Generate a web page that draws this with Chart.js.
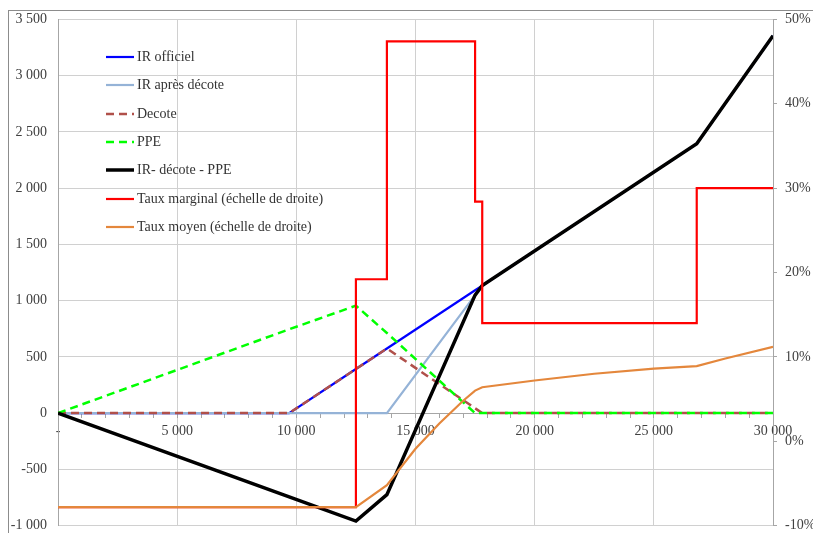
<!DOCTYPE html>
<html>
<head>
<meta charset="utf-8">
<script src="https://cdn.jsdelivr.net/npm/chart.js@4.4.1/dist/chart.umd.min.js"></script>
<style>
  body { margin: 0; overflow: hidden; background: #fff; font-family: "Liberation Serif", serif; }
  #wrap { position: relative; width: 813px; height: 533px; overflow: hidden; }
  #frame { position: absolute; left: 8px; top: 10px; width: 900px; height: 600px; border: 1px solid #8c8c8c; }
  #chart { position: absolute; left: 0; top: 0; }
  #legend { position: absolute; left: 106px; top: 43px; }
  .item { position: absolute; left: 0; height: 28px; display: flex; align-items: center; white-space: nowrap; font-size: 14px; color: #333; }
  .item svg { margin-right: 3px; }
</style>
</head>
<body>
<div id="wrap">
  <div id="frame"></div>
  <canvas id="chart" width="813" height="545"></canvas>
  <div id="legend"></div>
</div>
<script>
// Revenus (points de rupture) et montants en euros
const revenus = [0, 9700, 12500, 13800, 17500, 17800, 26800, 30000];
const irOfficiel = [0, 0, 392, 574, 1092, 1134, 2394, 3354];
const irApresDecote = [0, 0, 0, 0, 1049, 1134, 2394, 3354];
const decote = [0, 0, 392, 574, 43, 0, 0, 0];
const ppe = [0, 745, 955, 712, 0, 0, 0, 0];
const irNet = [0, -745, -960, -725, 1049, 1134, 2394, 3354];

// Taux (en %), échelle de droite
const revenusMarginal = [0, 12500, 13800, 17500, 17800, 26800, 30000];
const tauxMarginal = [-7.8, 19.2, 47.4, 28.4, 14, 30, 30];
const revenusMoyen = [0, 12500, 13800, 15000, 16000, 17000, 17500, 17800, 20000, 22500, 25000, 26800, 28000, 30000];
const tauxMoyen = [-7.8, -7.8, -5.2, -0.9, 2.1, 4.8, 6.0, 6.4, 7.2, 8.0, 8.6, 8.9, 9.8, 11.2];

const pts = (xs, ys) => xs.map((x, i) => ({ x: x, y: ys[i] }));
const fmt = v => String(v).replace(/\B(?=(\d{3})+(?!\d))/g, ' ');

const series = [
  { label: 'IR officiel', data: pts(revenus, irOfficiel), color: '#0000ff', width: 2.2 },
  { label: 'IR après décote', data: pts(revenus, irApresDecote), color: '#95b3d7', width: 2.2 },
  { label: 'Decote', data: pts(revenus, decote), color: '#b0504a', width: 2.5, dash: [8, 5] },
  { label: 'PPE', data: pts(revenus, ppe), color: '#00ff00', width: 2.5, dash: [8, 5] },
  { label: 'IR- décote - PPE', data: pts(revenus, irNet), color: '#000000', width: 3.5 },
  { label: 'Taux marginal (échelle de droite)', data: pts(revenusMarginal, tauxMarginal), color: '#ff0000', width: 2.2, axis: 'y1', stepped: true },
  { label: 'Taux moyen (échelle de droite)', data: pts(revenusMoyen, tauxMoyen), color: '#e4873c', width: 2.2, axis: 'y1' }
];

const datasets = series.map((s, i) => ({
  label: s.label,
  data: s.data,
  borderColor: s.color,
  backgroundColor: s.color,
  borderWidth: s.width,
  borderDash: s.dash || [],
  stepped: s.stepped || false,
  yAxisID: s.axis || 'y',
  pointRadius: 0,
  tension: 0,
  order: series.length - i
}));

const tickFont = { family: 'Liberation Serif', size: 14 };
const tickColor = '#404040';

new Chart(document.getElementById('chart'), {
  type: 'line',
  data: { datasets: datasets },
  options: {
    responsive: false,
    animation: false,
    layout: { padding: { top: 8, bottom: 7, left: 0, right: 0 } },
    plugins: { legend: { display: false }, tooltip: { enabled: false } },
    scales: {
      x: {
        type: 'linear',
        position: { y: 0 },
        min: 0, max: 30000,
        ticks: {
          stepSize: 1000, autoSkip: false, maxRotation: 0, padding: 6,
          color: tickColor, font: tickFont,
          callback: v => v === 0 ? '-' : (v % 5000 === 0 ? fmt(v) : '')
        },
        grid: {
          color: c => (c.tick && c.tick.value % 5000 === 0) ? '#d0d0d0' : 'rgba(0,0,0,0)',
          tickColor: '#a6a6a6', tickLength: 4
        },
        border: { color: '#a6a6a6' }
      },
      y: {
        position: 'left',
        min: -1000, max: 3500,
        ticks: { stepSize: 500, padding: 11, color: tickColor, font: tickFont, callback: v => fmt(v) },
        grid: { color: '#d0d0d0', drawTicks: false },
        border: { color: '#a6a6a6' },
        afterFit: s => { s.width = 58; }
      },
      y1: {
        position: 'right',
        min: -10, max: 50,
        ticks: { stepSize: 10, padding: 8, color: tickColor, font: tickFont, callback: v => v + '%' },
        grid: { drawOnChartArea: false, tickColor: '#a6a6a6', tickLength: 4 },
        border: { color: '#a6a6a6' },
        afterFit: s => { s.width = 40; }
      }
    }
  }
});

// Légende dans la zone du graphique
const legend = document.getElementById('legend');
series.forEach((s, i) => {
  const item = document.createElement('div');
  item.className = 'item';
  item.style.top = (i * 28.3) + 'px';
  const dash = s.dash ? `stroke-dasharray="${s.dash.join(' ')}"` : '';
  item.innerHTML = `<svg width="28" height="6"><line x1="0" y1="3" x2="28" y2="3" stroke="${s.color}" stroke-width="${s.width}" ${dash}/></svg><span>${s.label}</span>`;
  legend.appendChild(item);
});
</script>
</body>
</html>
